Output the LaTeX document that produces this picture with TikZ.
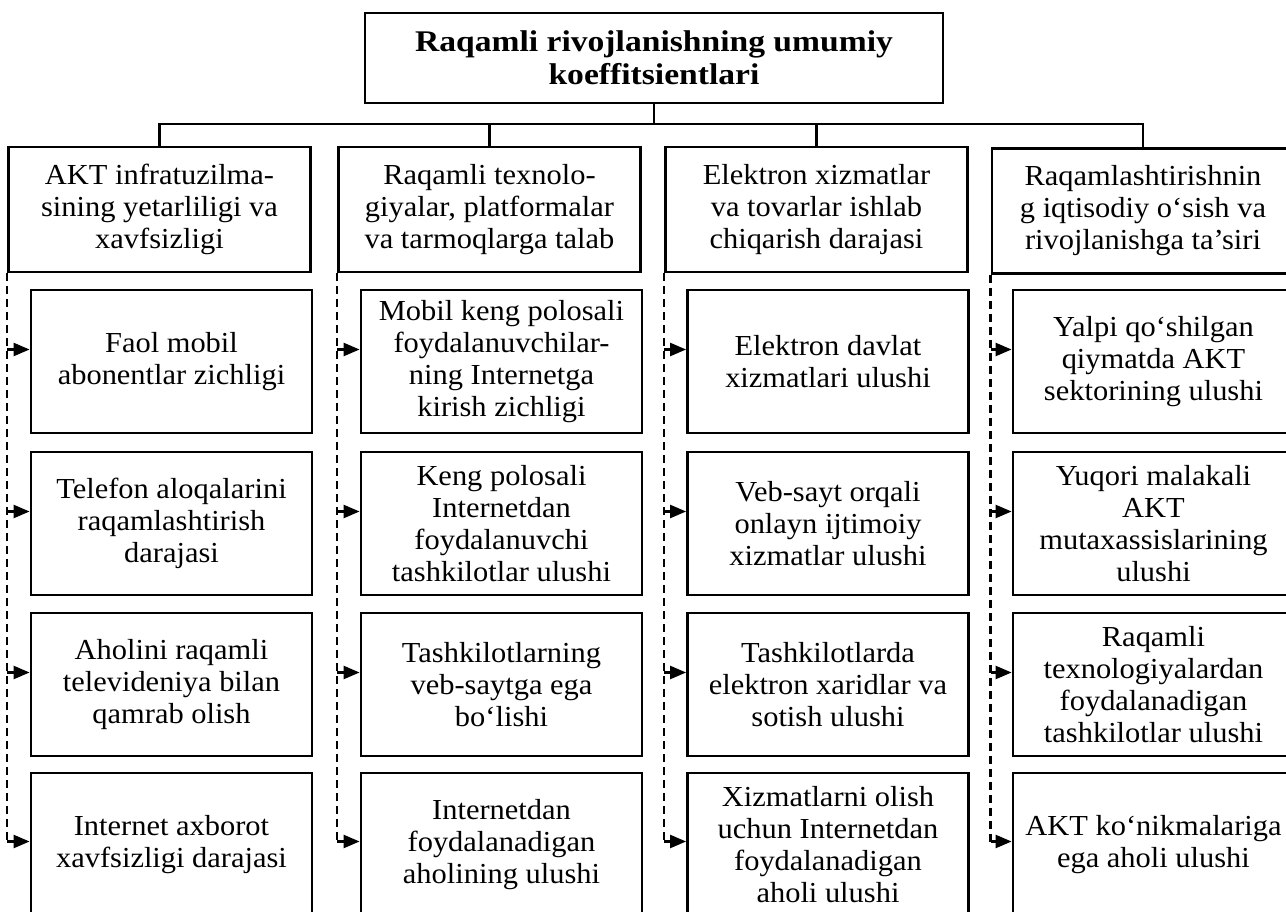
\documentclass[tikz,border=0pt]{standalone}
\usepackage{fontspec}
\setmainfont{Liberation Serif}[FakeStretch=1.05]
\newfontfamily\headfont{Liberation Serif}[FakeStretch=1.12]
\usetikzlibrary{arrows.meta}
\begin{document}
\begin{tikzpicture}[x=1pt,y=-1pt,
    every node/.style={align=center,inner sep=0pt,font=\fontsize{29}{32}\selectfont},
    frame/.style={draw,rectangle,line width=2.8pt},
    titlebox/.style={frame,minimum width=578pt,minimum height=90pt,
      font=\fontsize{30}{33}\headfont\bfseries},
    catbox/.style={frame,minimum width=302pt,minimum height=125pt},
    subbox/.style={frame,minimum width=281pt,minimum height=143pt},
    link/.style={line width=2.8pt},
    guide/.style={line width=2.3pt,dash pattern=on 8pt off 5pt},
    feed/.style={line width=2.3pt,-{Triangle[length=16pt,width=13pt]}}]
      \useasboundingbox (0,0) rectangle (1286,912);
      \draw
        (654,58) node[titlebox] (top){Raqamli rivojlanishning umumiy\\koeffitsientlari}
        (159.5,209.5) node[catbox] (c1){AKT infratuzilma-\\sining yetarliligi va\\xavfsizligi}
        (489.5,209.5) node[catbox] (c2){Raqamli texnolo-\\giyalar, platformalar\\va tarmoqlarga talab}
        (816.5,209.5) node[catbox] (c3){Elektron xizmatlar\\va tovarlar ishlab\\chiqarish darajasi}
        (1143,211) node[catbox] (c4){Raqamlashtirishnin\\g iqtisodiy o‘sish va\\rivojlanishga ta’siri};
      \draw
        (171.5,361.5) node[subbox] (s11){Faol mobil\\abonentlar zichligi}
        (171.5,523.5) node[subbox] (s12){Telefon aloqalarini\\raqamlashtirish\\darajasi}
        (171.5,684.5) node[subbox] (s13){Aholini raqamli\\televideniya bilan\\qamrab olish}
        (171.5,844.5) node[subbox] (s14){Internet axborot\\xavfsizligi darajasi}
        (501.5,361.5) node[subbox] (s21){Mobil keng polosali\\foydalanuvchilar-\\ning Internetga\\kirish zichligi}
        (501.5,523.5) node[subbox] (s22){Keng polosali\\Internetdan\\foydalanuvchi\\tashkilotlar ulushi}
        (501.5,684.5) node[subbox] (s23){Tashkilotlarning\\veb-saytga ega\\bo‘lishi}
        (501.5,844.5) node[subbox] (s24){Internetdan\\foydalanadigan\\aholining ulushi}
        (828,361.5) node[subbox] (s31){Elektron davlat\\xizmatlari ulushi}
        (828,523.5) node[subbox] (s32){Veb-sayt orqali\\onlayn ijtimoiy\\xizmatlar ulushi}
        (828,684.5) node[subbox] (s33){Tashkilotlarda\\elektron xaridlar va\\sotish ulushi}
        (828,844.5) node[subbox] (s34){Xizmatlarni olish\\uchun Internetdan\\foydalanadigan\\aholi ulushi}
        (1153.5,361.5) node[subbox] (s41){Yalpi qo‘shilgan\\qiymatda AKT\\sektorining ulushi}
        (1153.5,523.5) node[subbox] (s42){Yuqori malakali\\AKT\\mutaxassislarining\\ulushi}
        (1153.5,684.5) node[subbox] (s43){Raqamli\\texnologiyalardan\\foydalanadigan\\tashkilotlar ulushi}
        (1153.5,844.5) node[subbox] (s44){AKT ko‘nikmalariga\\ega aholi ulushi};
      % tree from the title down to the four groups
      \coordinate (hub) at (654,124);
      \begin{scope}[link]
        \draw (top) -- (hub);
        \draw (c1.north) |- (hub) -| (c4.north);
        \draw (c2) -- (c2 |- hub);
        \draw (c3) -- (c3 |- hub);
      \end{scope}
      % arrow points, a little above the middle of each box
      \coordinate (a11) at ([yshift=12pt]s11.west);
      \coordinate (a12) at ([yshift=12pt]s12.west);
      \coordinate (a13) at ([yshift=12pt]s13.west);
      \coordinate (a14) at ([yshift=3pt]s14.west);
      \coordinate (a21) at ([yshift=12pt]s21.west);
      \coordinate (a22) at ([yshift=12pt]s22.west);
      \coordinate (a23) at ([yshift=12pt]s23.west);
      \coordinate (a24) at ([yshift=3pt]s24.west);
      \coordinate (a31) at ([yshift=12pt]s31.west);
      \coordinate (a32) at ([yshift=12pt]s32.west);
      \coordinate (a33) at ([yshift=12pt]s33.west);
      \coordinate (a34) at ([yshift=3pt]s34.west);
      \coordinate (a41) at ([yshift=12pt]s41.west);
      \coordinate (a42) at ([yshift=12pt]s42.west);
      \coordinate (a43) at ([yshift=12pt]s43.west);
      \coordinate (a44) at ([yshift=3pt]s44.west);
      \begin{scope}[guide]
        \draw (c1.south west) -- (c1.south west |- a14);
        \draw (c2.south west) -- (c2.south west |- a24);
        \draw (c3.south west) -- (c3.south west |- a34);
        \draw (c4.south west) -- (c4.south west |- a44);
      \end{scope}
      \begin{scope}[feed]
        \draw (c1.south west |- a11) -- (a11);
        \draw (c1.south west |- a12) -- (a12);
        \draw (c1.south west |- a13) -- (a13);
        \draw (c1.south west |- a14) -- (a14);
        \draw (c2.south west |- a21) -- (a21);
        \draw (c2.south west |- a22) -- (a22);
        \draw (c2.south west |- a23) -- (a23);
        \draw (c2.south west |- a24) -- (a24);
        \draw (c3.south west |- a31) -- (a31);
        \draw (c3.south west |- a32) -- (a32);
        \draw (c3.south west |- a33) -- (a33);
        \draw (c3.south west |- a34) -- (a34);
        \draw (c4.south west |- a41) -- (a41);
        \draw (c4.south west |- a42) -- (a42);
        \draw (c4.south west |- a43) -- (a43);
        \draw (c4.south west |- a44) -- (a44);
      \end{scope}
    \end{tikzpicture}
\end{document}
